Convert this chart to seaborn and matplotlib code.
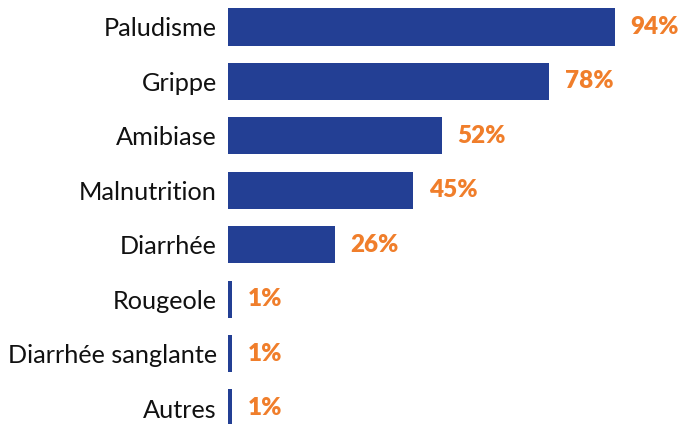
import matplotlib
matplotlib.use("Agg")
import matplotlib.pyplot as plt
import seaborn as sns
import pandas as pd

categories = ["Paludisme", "Grippe", "Amibiase", "Malnutrition", "Diarrhée",
              "Rougeole", "Diarrhée sanglante", "Autres"]
values = [94, 78, 52, 45, 26, 1, 1, 1]
labels = ["94%", "78%", "52%", "45%", "26%", "1%", "1%", "1%"]

df = pd.DataFrame({"cat": categories, "val": values})

sns.set_style("white")
plt.rcParams["font.family"] = ["Lato", "DejaVu Sans"]

W, H = 678, 424
fig = plt.figure(figsize=(W / 100, H / 100), dpi=100)
left_px, right_px = 228, 640
ax = fig.add_axes([left_px / W, 0, (right_px - left_px) / W, 1])

bar_color = "#233F94"
sns.barplot(data=df, x="val", y="cat", orient="h", color=bar_color,
            width=0.68, saturation=1, linewidth=0, ax=ax)

ax.set_xlim(0, 100)
step = (408 - 27) / 7
ax.set_ylim(7 + (H - 408) / step, -27 / step)

for i, (v, lab) in enumerate(zip(values, labels)):
    ax.text(v + 3.7, i, lab, va="center", ha="left", color="#F07E2B",
            fontsize=17.5, fontweight="heavy")

ax.set_xlabel("")
ax.set_ylabel("")
ax.set_xticks([])
ax.tick_params(axis="y", length=0, pad=8, labelsize=18.2, labelcolor="#111111")
for s in ax.spines.values():
    s.set_visible(False)

fig.savefig("out.png", dpi=100)
